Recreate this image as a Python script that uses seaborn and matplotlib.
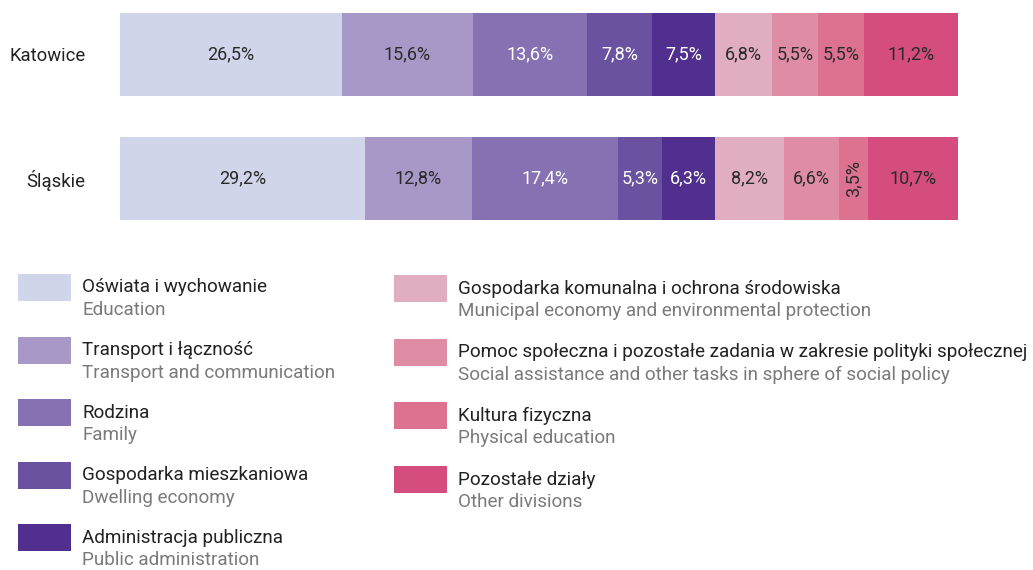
import numpy as np
import pandas as pd
import matplotlib.pyplot as plt
import seaborn as sns
from matplotlib.patches import Rectangle

sns.set_style("white")
plt.rcParams["font.family"] = ["Roboto", "DejaVu Sans"]

# Datos
regiones = ["Katowice", "Śląskie"]
katowice = [26.5, 15.6, 13.6, 7.8, 7.5, 6.8, 5.5, 5.5, 11.2]
slaskie = [29.2, 12.8, 17.4, 5.3, 6.3, 8.2, 6.6, 3.5, 10.7]
etykiety_pl = ["Oświata i wychowanie", "Transport i łączność", "Rodzina",
               "Gospodarka mieszkaniowa", "Administracja publiczna",
               "Gospodarka komunalna i ochrona środowiska",
               "Pomoc społeczna i pozostałe zadania w zakresie polityki społecznej",
               "Kultura fizyczna", "Pozostałe działy"]
etykiety_en = ["Education", "Transport and communication", "Family",
               "Dwelling economy", "Public administration",
               "Municipal economy and environmental protection",
               "Social assistance and other tasks in sphere of social policy",
               "Physical education", "Other divisions"]
colores = ["#D0D5EA", "#A898C7", "#8672B2", "#6A52A0", "#512F8F",
           "#E0AEC0", "#DF8DA5", "#DC7190", "#D54C7E"]
texto_blanco = [False, False, True, True, True, False, False, False, False]

valores = np.array([katowice, slaskie])
acumulado = valores.cumsum(axis=1)

fig = plt.figure(figsize=(10.33, 5.7), dpi=100)
W, H = 1033, 570

# Ejes del grafico de barras (en pixeles: x 120-958, y 13-220)
ax = fig.add_axes([120 / W, 1 - 220 / H, 838 / W, 207 / H])

# Barras apiladas: dibujar acumulados de mayor a menor
for i in range(len(colores) - 1, -1, -1):
    df = pd.DataFrame({"region": regiones, "valor": acumulado[:, i]})
    sns.barplot(data=df, x="valor", y="region", orient="h", color=colores[i],
                width=0.664, saturation=1, ax=ax, linewidth=0)

ax.set_xlim(0, 100)
ax.set_ylim(1.332, -0.332)
ax.set_xlabel("")
ax.set_ylabel("")
ax.set_xticks([])
ax.tick_params(axis="y", length=0, pad=25, labelsize=13.3, labelcolor="#222222")
sns.despine(ax=ax, left=True, bottom=True)

for r in range(len(regiones)):
    for i, v in enumerate(valores[r]):
        centro = acumulado[r, i] - v / 2
        txt = f"{v:.1f}%".replace(".", ",")
        color = "white" if texto_blanco[i] else "#2a2a2a"
        rot = 90 if v < 4 else 0
        ax.text(centro, r, txt, ha="center", va="center", fontsize=13,
                color=color, rotation=rot)

# Leyenda manual en dos columnas
lax = fig.add_axes([0, 0, 1, 1])
lax.set_xlim(0, W)
lax.set_ylim(H, 0)
lax.axis("off")

columnas = [(18, 274, 62.6, range(0, 5)), (394, 275, 63.7, range(5, 9))]
for x0, y0, paso, idx in columnas:
    for k, i in enumerate(idx):
        y = y0 + k * paso
        lax.add_patch(Rectangle((x0, y), 53, 27, color=colores[i], lw=0))
        lax.text(x0 + 64, y + 13.5, etykiety_pl[i], fontsize=13.6,
                 color="#222222", va="center", ha="left")
        lax.text(x0 + 64, y + 36, etykiety_en[i], fontsize=13.6,
                 color="#7a7a7a", va="center", ha="left")

fig.savefig("out.png", dpi=100)
